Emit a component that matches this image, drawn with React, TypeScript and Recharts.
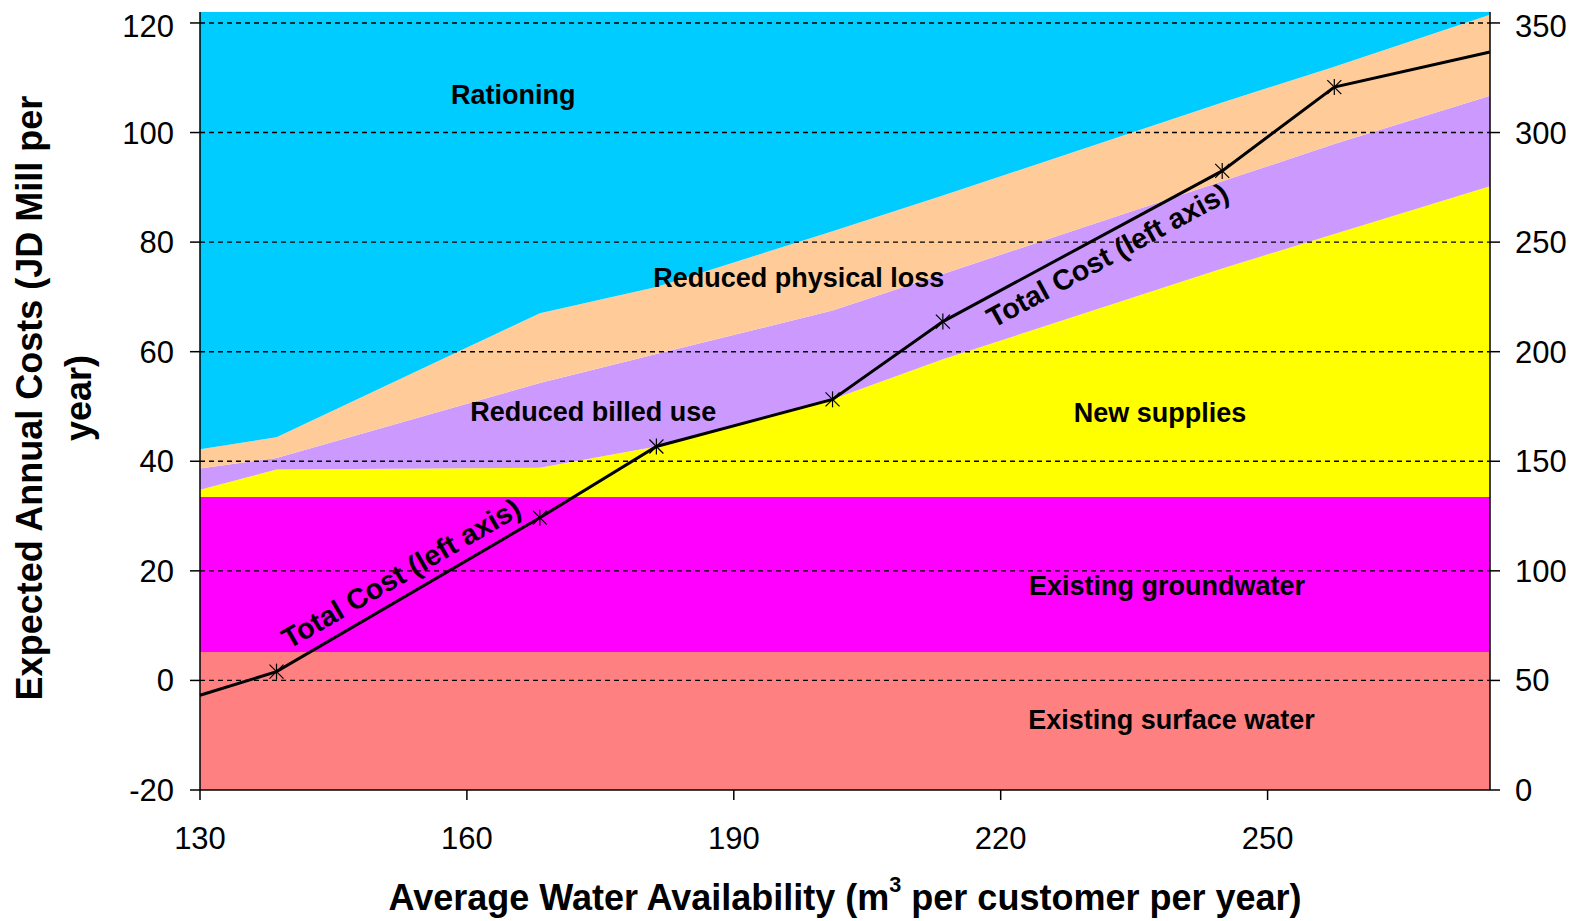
import React from 'react';
import { ComposedChart, Area, Line, Scatter, XAxis, YAxis, ReferenceLine } from 'recharts';

// water availability (m3 per customer per year) at each break point
const availability = [130, 138.6, 168.2, 181.3, 201.1, 213.5, 244.9, 257.5, 275];

// stacked cost layers, right axis units
const surfaceWater = [63, 63, 63, 63, 63, 63, 63, 63, 63];
const groundwater = [70.75, 70.75, 70.75, 70.75, 70.75, 70.75, 70.75, 70.75, 70.75];
const newSupplies = [3.25, 12.5, 13.25, 23, 44.5, 62.75, 104.25, 120, 141.75];
const billedUse = [9.75, 5.25, 38.75, 42.25, 40.5, 39, 39.75, 41, 41.25];
const physicalLoss = [8.75, 9.5, 31.75, 30.5, 36.25, 35.75, 36, 35.25, 37];
const rationing = [199.5, 194, 137.5, 125.5, 100, 83.75, 41.25, 25, 1.25];

// total cost, left axis units
const totalCost = [-2.7, 1.6, 29.7, 42.7, 51.3, 65.5, 93.0, 108.3, 114.7];
const hasMarker = [false, true, true, true, true, true, true, true, false];

const xTicks = [130, 160, 190, 220, 250];
const leftTicks = [-20, 0, 20, 40, 60, 80, 100, 120];
const rightTicks = [0, 50, 100, 150, 200, 250, 300, 350];
const gridLines = [0, 20, 40, 60, 80, 100, 120];

// text placed in the plot (data coords, left axis)
const annotations = [
  { x: 165.2, y: 106.9, text: 'Rationing', angle: 0, size: 27 },
  { x: 197.3, y: 73.5, text: 'Reduced physical loss', angle: 0, size: 27 },
  { x: 174.2, y: 49.0, text: 'Reduced billed use', angle: 0, size: 27 },
  { x: 237.9, y: 48.8, text: 'New supplies', angle: 0, size: 27 },
  { x: 238.7, y: 17.2, text: 'Existing groundwater', angle: 0, size: 27 },
  { x: 239.2, y: -7.2, text: 'Existing surface water', angle: 0, size: 27 },
  { x: 152.6, y: 19.6, text: 'Total Cost (left axis)', angle: -30, size: 28.5 },
  { x: 232.0, y: 77.6, text: 'Total Cost (left axis)', angle: -28.5, size: 28.5 },
];

const rows = availability.map((x, i) => ({
  x,
  surface: surfaceWater[i],
  ground: groundwater[i],
  supplies: newSupplies[i],
  billed: billedUse[i],
  loss: physicalLoss[i],
  rationing: rationing[i],
  total: totalCost[i],
}));

const FONT = '"Liberation Sans", Arial, sans-serif';
const W = 1571;
const H = 913;

const Asterisk = (props: any) => {
  const { cx, cy, index } = props;
  if (!hasMarker[index] || cx == null) return <g key={`m${index}`} />;
  const r = 7;
  return (
    <g key={`m${index}`} stroke="#000" strokeWidth={1.2}>
      <line x1={cx - r} y1={cy - r} x2={cx + r} y2={cy + r} />
      <line x1={cx - r} y1={cy + r} x2={cx + r} y2={cy - r} />
      <line x1={cx} y1={cy - r - 1} x2={cx} y2={cy + r + 1} />
    </g>
  );
};

const AnnotationText = (props: any) => {
  const { cx, cy, payload } = props;
  return (
    <text
      x={cx}
      y={cy}
      textAnchor="middle"
      dominantBaseline="central"
      fontFamily={FONT}
      fontWeight="bold"
      fontSize={payload.size}
      fill="#000"
      transform={payload.angle ? `rotate(${payload.angle} ${cx} ${cy})` : undefined}
    >
      {payload.text}
    </text>
  );
};

const tickStyle = { fill: '#000', fontSize: 31, fontFamily: FONT };

export default function App() {
  return (
    <div style={{ position: 'relative', width: W, height: H, fontFamily: FONT }}>
      <style>{'body{overflow:hidden}'}</style>
      <ComposedChart width={W} height={H} data={rows} margin={{ top: 4, right: 0, bottom: 0, left: 0 }}>
        <XAxis
          dataKey="x"
          type="number"
          domain={[130, 275]}
          ticks={xTicks}
          height={131}
          tickSize={10}
          tickMargin={27}
          tick={tickStyle}
          axisLine={{ stroke: '#000', strokeWidth: 1.5 }}
          tickLine={{ stroke: '#000', strokeWidth: 1.5 }}
        />
        <YAxis
          yAxisId="left"
          orientation="left"
          width={192}
          domain={[-20, 122]}
          ticks={leftTicks}
          tickSize={10}
          tickMargin={16}
          tick={tickStyle}
          axisLine={{ stroke: '#000', strokeWidth: 1.5 }}
          tickLine={{ stroke: '#000', strokeWidth: 1.5 }}
        />
        <YAxis
          yAxisId="right"
          orientation="right"
          width={89}
          domain={[0, 355]}
          ticks={rightTicks}
          tickSize={10}
          tickMargin={15}
          tick={tickStyle}
          axisLine={{ stroke: '#000', strokeWidth: 1.5 }}
          tickLine={{ stroke: '#000', strokeWidth: 1.5 }}
        />
        <Area yAxisId="right" type="linear" dataKey="surface" stackId="s" fill="#FF8080" fillOpacity={1} stroke="none" isAnimationActive={false} />
        <Area yAxisId="right" type="linear" dataKey="ground" stackId="s" fill="#FF00FF" fillOpacity={1} stroke="none" isAnimationActive={false} />
        <Area yAxisId="right" type="linear" dataKey="supplies" stackId="s" fill="#FFFF00" fillOpacity={1} stroke="none" isAnimationActive={false} />
        <Area yAxisId="right" type="linear" dataKey="billed" stackId="s" fill="#CC99FF" fillOpacity={1} stroke="none" isAnimationActive={false} />
        <Area yAxisId="right" type="linear" dataKey="loss" stackId="s" fill="#FFCC99" fillOpacity={1} stroke="none" isAnimationActive={false} />
        <Area yAxisId="right" type="linear" dataKey="rationing" stackId="s" fill="#00CCFF" fillOpacity={1} stroke="none" isAnimationActive={false} />
        {gridLines.map((v) => (
          <ReferenceLine key={v} yAxisId="left" y={v} stroke="#000" strokeWidth={1.4} strokeDasharray="5 4" />
        ))}
        <Line
          yAxisId="left"
          type="linear"
          dataKey="total"
          stroke="#000"
          strokeWidth={3}
          dot={Asterisk}
          activeDot={false}
          isAnimationActive={false}
        />
        <Scatter
          yAxisId="left"
          data={annotations}
          dataKey="y"
          shape={AnnotationText}
          isAnimationActive={false}
        />
      </ComposedChart>

      <div
        style={{
          position: 'absolute',
          left: 192,
          width: 1290,
          top: 871.5,
          lineHeight: '36px',
          fontSize: 36,
          fontWeight: 'bold',
          textAlign: 'center',
          whiteSpace: 'nowrap',
        }}
      >
        Average Water Availability (m
        <span style={{ fontSize: '0.6em', position: 'relative', top: '-0.8em' }}>3</span> per customer per year)
      </div>

      <div
        style={{
          position: 'absolute',
          left: 46,
          top: 390,
          width: 800,
          transform: 'translate(-50%, -50%) rotate(-90deg)',
          lineHeight: '49px',
          fontSize: 36,
          fontWeight: 'bold',
          textAlign: 'center',
          whiteSpace: 'nowrap',
        }}
      >
        Expected Annual Costs (JD Mill per
        <br />
        year)
      </div>
    </div>
  );
}
